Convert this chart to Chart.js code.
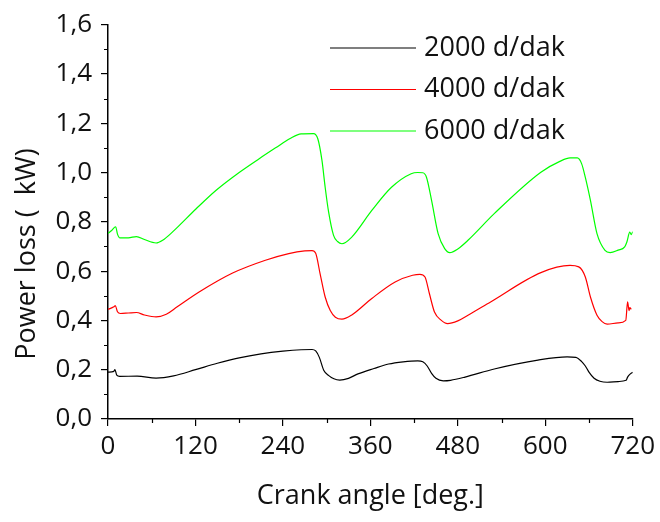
<!DOCTYPE html>
<html>
<head>
<meta charset="utf-8">
<script src="https://cdn.jsdelivr.net/npm/chart.js@4/dist/chart.umd.min.js"></script>
<style>
    html, body { margin: 0; padding: 0; background: #fff; }
    #wrap { width: 660px; height: 522px; }
</style>
</head>
<body>
<div id="wrap"><canvas id="powerChart" width="660" height="522"></canvas></div>
<script>
// 2000 d/dak
const blackAngles = [0, 8, 9.5, 12, 16, 40, 66, 90, 120, 150, 180, 210, 240, 265, 280, 285, 290, 296, 303, 310, 318, 330, 343, 365, 385, 405, 425, 432, 438, 444, 450, 460, 470, 490, 530, 590, 630, 642, 650, 655, 660, 667, 675, 685, 700, 711, 713, 715, 720];
const blackPower = [0.19, 0.193, 0.2, 0.178, 0.173, 0.174, 0.166, 0.175, 0.2, 0.226, 0.248, 0.264, 0.275, 0.281, 0.282, 0.276, 0.25, 0.198, 0.176, 0.163, 0.158, 0.165, 0.183, 0.205, 0.223, 0.232, 0.236, 0.232, 0.215, 0.185, 0.165, 0.155, 0.157, 0.17, 0.203, 0.239, 0.252, 0.25, 0.233, 0.215, 0.19, 0.165, 0.153, 0.149, 0.152, 0.157, 0.17, 0.178, 0.19];

// 4000 d/dak
const redAngles = [0, 8, 10, 13, 17, 28, 39, 50, 66, 80, 95, 125, 171, 216, 248, 270, 280, 285, 291, 298, 305, 312, 321, 334, 362, 394, 418, 428, 435, 441, 448, 457, 466, 480, 494, 525, 594, 634, 646, 655, 662, 671, 678, 685, 700, 710.5, 713, 715, 716, 718];
const redPower = [0.445, 0.455, 0.46, 0.435, 0.428, 0.43, 0.432, 0.422, 0.414, 0.425, 0.455, 0.515, 0.592, 0.644, 0.671, 0.682, 0.683, 0.672, 0.59, 0.495, 0.44, 0.413, 0.405, 0.421, 0.489, 0.556, 0.583, 0.587, 0.576, 0.509, 0.434, 0.401, 0.387, 0.398, 0.421, 0.475, 0.594, 0.623, 0.617, 0.576, 0.495, 0.421, 0.395, 0.385, 0.39, 0.4, 0.475, 0.44, 0.452, 0.445];

// 6000 d/dak
const greenAngles = [0, 5, 10.5, 13, 16, 28, 39, 50, 66, 75, 89, 121, 148, 180, 207, 230, 250, 265, 282, 288, 293.6, 298, 302.7, 309.5, 315, 321, 334.5, 362, 389, 416, 425, 432, 437, 444, 453, 462, 469, 480, 494, 530, 594, 620, 634, 644, 650, 655, 662, 671, 682, 689, 700, 709, 712, 716, 718, 720];
const greenPower = [0.753, 0.765, 0.78, 0.75, 0.735, 0.735, 0.74, 0.728, 0.714, 0.725, 0.76, 0.853, 0.927, 1.0, 1.055, 1.1, 1.138, 1.157, 1.158, 1.136, 1.049, 0.94, 0.84, 0.745, 0.72, 0.711, 0.738, 0.846, 0.94, 0.995, 1.0, 0.999, 0.981, 0.887, 0.752, 0.691, 0.675, 0.69, 0.725, 0.833, 1.001, 1.045, 1.059, 1.059, 1.035, 0.98, 0.887, 0.752, 0.684, 0.675, 0.685, 0.698, 0.718, 0.758, 0.748, 0.76];

const seriesLabels = ['2000 d/dak', '4000 d/dak', '6000 d/dak'];
const seriesColors = ['#000000', '#ff0000', '#00ff00'];

const xTitle = 'Crank angle [deg.]';
const yTitle = 'Power loss (  kW)';

const FONT = "'Open Sans', 'Noto Sans', sans-serif";

function toPoints(angles, values) {
    return angles.map((a, i) => ({ x: a, y: values[i] }));
}

// 副目盛り（軸の外側）
const minorTicks = {
    id: 'minorTicks',
    afterDraw(chart) {
        const { ctx, chartArea, scales } = chart;
        ctx.save();
        ctx.strokeStyle = '#000';
        ctx.lineWidth = 1.2;
        ctx.beginPath();
        for (let v = 60; v < 720; v += 120) {
            const px = Math.round(scales.x.getPixelForValue(v)) + 0.5;
            ctx.moveTo(px, chartArea.bottom);
            ctx.lineTo(px, chartArea.bottom + 4);
        }
        for (let v = 0.1; v < 1.6; v += 0.2) {
            const py = Math.round(scales.y.getPixelForValue(v)) + 0.5;
            ctx.moveTo(chartArea.left, py);
            ctx.lineTo(chartArea.left - 4, py);
        }
        ctx.stroke();
        ctx.restore();
    }
};

// y軸タイトルと凡例
const labelsPlugin = {
    id: 'labelsPlugin',
    afterDraw(chart) {
        const { ctx } = chart;
        ctx.save();
        ctx.fillStyle = '#111';
        ctx.font = `27px ${FONT}`;
        ctx.textAlign = 'center';
        ctx.textBaseline = 'middle';
        ctx.translate(27, 254);
        ctx.rotate(-Math.PI / 2);
        ctx.fillText(yTitle, 0, 0);
        ctx.restore();

        ctx.save();
        ctx.font = `27px ${FONT}`;
        ctx.textAlign = 'left';
        ctx.textBaseline = 'middle';
        seriesLabels.forEach((label, i) => {
            const y = 48 + i * 41.5;
            ctx.strokeStyle = seriesColors[i];
            ctx.lineWidth = 1.2;
            ctx.beginPath();
            ctx.moveTo(330, y);
            ctx.lineTo(416, y);
            ctx.stroke();
            ctx.fillStyle = '#111';
            ctx.fillText(label, 424, y);
        });
        ctx.restore();
    }
};

const datasets = [
    toPoints(blackAngles, blackPower),
    toPoints(redAngles, redPower),
    toPoints(greenAngles, greenPower)
].map((data, i) => ({
    label: seriesLabels[i],
    data,
    borderColor: seriesColors[i],
    borderWidth: 1.2,
    pointRadius: 0,
    fill: false,
    cubicInterpolationMode: 'monotone'
}));

new Chart(document.getElementById('powerChart'), {
    type: 'line',
    data: { datasets },
    plugins: [minorTicks, labelsPlugin],
    options: {
        responsive: false,
        animation: false,
        layout: { padding: { left: 0, right: 24, top: 24, bottom: 0 } },
        plugins: {
            legend: { display: false },
            tooltip: { enabled: false }
        },
        scales: {
            x: {
                type: 'linear',
                min: 0,
                max: 720,
                afterFit: (scale) => { scale.height = 103; },
                ticks: {
                    stepSize: 120,
                    color: '#111',
                    padding: 5,
                    maxRotation: 0,
                    font: { family: FONT, size: 26 }
                },
                grid: {
                    drawOnChartArea: false,
                    drawTicks: true,
                    tickLength: 7,
                    color: '#000',
                    lineWidth: 1.2
                },
                border: { display: true, color: '#000', width: 1.5 },
                title: {
                    display: true,
                    text: xTitle,
                    color: '#111',
                    font: { family: FONT, size: 27 },
                    padding: { top: 0, bottom: 9 }
                }
            },
            y: {
                min: 0,
                max: 1.6,
                afterFit: (scale) => { scale.width = 108; },
                ticks: {
                    stepSize: 0.2,
                    color: '#111',
                    padding: 9,
                    font: { family: FONT, size: 26 },
                    callback: (value) => value.toFixed(1).replace('.', ',')
                },
                grid: {
                    drawOnChartArea: false,
                    drawTicks: true,
                    tickLength: 7,
                    color: '#000',
                    lineWidth: 1.2
                },
                border: { display: true, color: '#000', width: 1.5 }
            }
        }
    }
});
</script>
</body>
</html>
